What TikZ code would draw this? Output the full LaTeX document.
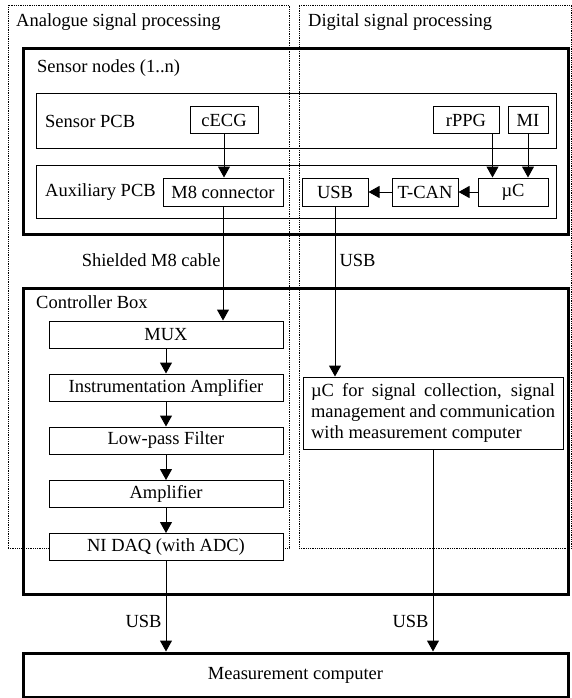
\documentclass[tikz,border=0pt]{standalone}
\usepackage{fontspec}
\setmainfont{Liberation Serif}
\usetikzlibrary{arrows.meta,positioning,calc}
\tikzset{
    area/.style={rectangle, draw, densely dotted, line width=0.8pt, inner sep=0pt},
    frame/.style={rectangle, draw, line width=3pt, inner sep=0pt},
    pcb/.style={rectangle, draw, line width=1pt, inner sep=0pt},
    block/.style={rectangle, draw, fill=white, line width=1pt, inner sep=0pt, minimum height=27pt},
    title/.style={anchor=west, inner sep=0pt},
    arr/.style={line width=1pt, -{Triangle[width=12pt,length=11pt]}},
}

\begin{document}
\begin{tikzpicture}[x=1pt, y=-1pt, font=\fontsize{18.5}{21}\selectfont]
    \useasboundingbox (0,0) rectangle (572,698);
    \node[area, minimum width=281pt, minimum height=543pt] (analog) at (148.5,276.5) {};
    \node[area, minimum width=272.5pt, minimum height=543pt] (digital) at (435.25,276.5) {};
    \node[title] (analogT) at (16,22) {Analogue signal processing};
    \node[title] (digitalT) at (308,22) {Digital signal processing};

    \node[frame, minimum width=545pt, minimum height=185pt] (sensors) at (295.5,141.5) {};
    \node[title] (sensorsT) at (37,68) {Sensor nodes (1..n)};
    \node[pcb, minimum width=520pt, minimum height=54pt] (spcb) at (296,121) {};
    \node[title] (spcbT) at (45,121) {Sensor PCB};
    \node[pcb, minimum width=520pt, minimum height=53pt] (apcb) at (296,191.5) {};
    \node[title] (apcbT) at (45,192) {Auxiliary PCB};

    \node[block, minimum width=68pt, minimum height=26pt] (cecg) at (224,120) {cECG};
    \node[block, minimum width=66pt, minimum height=26pt] (rppg) at (466,120) {rPPG};
    \node[block, minimum width=40pt, minimum height=26pt] (mi) at (528,120) {MI};
    \node[block, minimum width=120pt, minimum height=28pt] (m8) at (223,192) {M8 connector};
    \node[block, minimum width=66pt, minimum height=28pt] (usb) at (335,192) {USB};
    \node[block, minimum width=66pt, minimum height=28pt] (tcan) at (425,192) {T-CAN};
    \node[block, minimum width=70pt, minimum height=28pt] (uc) at (513,192) {µC};

    \draw[arr] (cecg.south) -- (cecg.south |- m8.north);
    \draw[arr] ([xshift=-7pt]rppg.south east) -- ([xshift=-7pt]rppg.south east |- uc.north);
    \draw[arr] (mi.south) -- (mi.south |- uc.north);
    \draw[arr] (uc) -- (tcan);
    \draw[arr] (tcan) -- (usb);

    \node[frame, minimum width=545pt, minimum height=306pt] (ctrl) at (295.5,441) {};
    \node[title] (ctrlT) at (36,302) {Controller Box};
    \foreach \name/\txt/\y in {mux/MUX/334.5, ina/Instrumentation Amplifier/387.5,
        lpf/Low-pass Filter/440.5, amp/Amplifier/494, daq/NI DAQ (with ADC)/547}
        \node[block, minimum width=234pt] (\name) at (166,\y) {\txt};
    \foreach \a/\b in {mux/ina, ina/lpf, lpf/amp, amp/daq}
        \draw[arr] (\a) -- (\b);
    \node[block, minimum width=260pt, minimum height=72pt, text width=244pt, align=justify] (mcu) at (433,413)
        {µC for signal collection, signal\linebreak management and communication\linebreak with measurement computer};

    \node[frame, minimum width=545pt, minimum height=44pt] (pc) at (295.5,675) {Measurement computer};

    \draw[arr] (m8.south) -- node[pos=0.47, left, inner sep=2pt] {Shielded M8 cable} (m8.south |- mux.north);
    \draw[arr] (usb.south) -- node[pos=0.32, right, inner sep=4pt] {USB} (usb.south |- mcu.north);
    \draw[arr] (daq.south) -- node[pos=0.67, left, inner sep=4pt] {USB} (daq.south |- pc.north);
    \draw[arr] (mcu.south) -- node[pos=0.85, left, inner sep=4pt] {USB} (mcu.south |- pc.north);
\end{tikzpicture}
\end{document}
